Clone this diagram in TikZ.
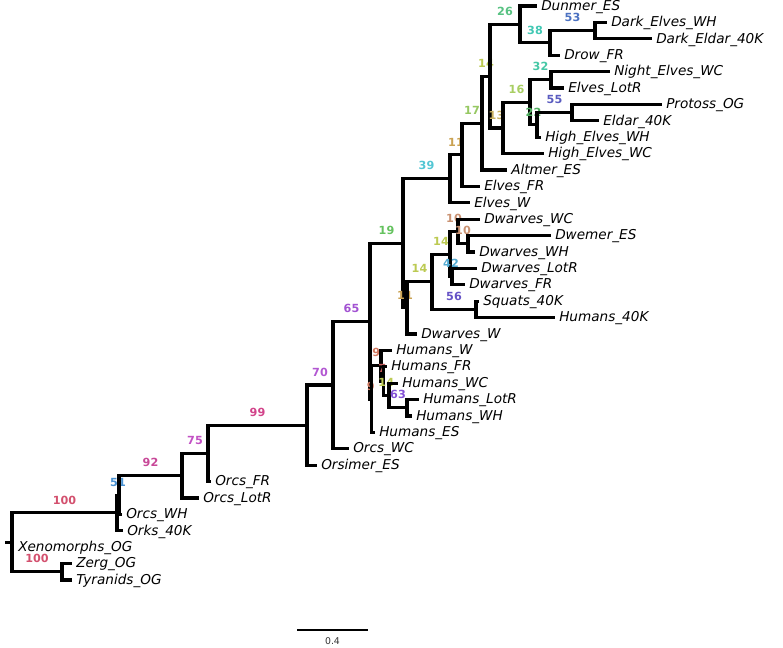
\documentclass[tikz,border=0pt]{standalone}
\usepackage{fontspec}
\setmainfont{DejaVu Sans}
\definecolor{c100}{HTML}{D3506E}
\definecolor{c99}{HTML}{D2438A}
\definecolor{c92}{HTML}{C84898}
\definecolor{c75}{HTML}{C250C4}
\definecolor{c70}{HTML}{B257D2}
\definecolor{c65}{HTML}{A252D2}
\definecolor{c63}{HTML}{8452D6}
\definecolor{c56}{HTML}{6552C6}
\definecolor{c55}{HTML}{5A5CC0}
\definecolor{c53}{HTML}{4C72C2}
\definecolor{c51}{HTML}{4A92D2}
\definecolor{c42}{HTML}{52AAD2}
\definecolor{c39}{HTML}{52C6D4}
\definecolor{c38}{HTML}{42C8B4}
\definecolor{c32}{HTML}{46C8A6}
\definecolor{c26}{HTML}{58C282}
\definecolor{c22}{HTML}{52B062}
\definecolor{c19}{HTML}{64C25E}
\definecolor{c17}{HTML}{96C862}
\definecolor{c16}{HTML}{A8CE62}
\definecolor{c14}{HTML}{BCCA52}
\definecolor{c13}{HTML}{CAB262}
\definecolor{c11}{HTML}{CAA252}
\definecolor{c10}{HTML}{CA9272}
\definecolor{c9}{HTML}{D27A62}
\definecolor{c7}{HTML}{C25A5A}
\begin{document}
\begin{tikzpicture}[x=0.75pt,y=-0.75pt,
  br/.style={line width=2.3pt, line join=miter, line cap=rect},
  tip/.style={anchor=west, inner sep=0pt, yshift=-0.5pt, font=\fontsize{10.2pt}{11pt}\selectfont\itshape},
  supp/.style={pos=0.75, anchor=south, inner sep=0pt, yshift=5.4pt,
    font=\fontsize{8.4pt}{9pt}\selectfont\bfseries, text=#1}]
\path[use as bounding box, fill=white] (0,0) rectangle (783,648);
% internal nodes
\coordinate (R) at (12,542.35);
\coordinate (Rs) at (7,542.35);
\coordinate (A) at (117,512.9);
\coordinate (A2) at (119,495.05);
\coordinate (B) at (182,475.7);
\coordinate (E) at (208,453.35);
\coordinate (F) at (307,425.1);
\coordinate (G) at (333,385);
\coordinate (H) at (370,321.2);
\coordinate (HH) at (371.5,399.1);
\coordinate (H1) at (381,365.8);
\coordinate (H2) at (383.5,381.15);
\coordinate (H3) at (389,395.5);
\coordinate (H4) at (407,407.8);
\coordinate (J) at (403,243.3);
\coordinate (M) at (407,307.85);
\coordinate (K) at (432,281.7);
\coordinate (N) at (450,254.05);
\coordinate (P) at (458,231.5);
\coordinate (PP) at (468,243.8);
\coordinate (Q) at (452,276.6);
\coordinate (O) at (476,309.4);
\coordinate (L) at (450,178.8);
\coordinate (S) at (462,154.75);
\coordinate (T) at (482,123.1);
\coordinate (U) at (490,76.2);
\coordinate (V) at (520,24.45);
\coordinate (X) at (550,42.9);
\coordinate (Y) at (595,30.6);
\coordinate (W) at (503,127.98);
\coordinate (Z1) at (530,102.35);
\coordinate (AA) at (551,79.8);
\coordinate (BB) at (537,124.9);
\coordinate (CC) at (572,112.6);
\coordinate (ZT) at (62,571.8);
% tips and their labels
\foreach \n/\x/\y/\t in {
  t0/535/6/Dunmer\_ES, t1/605/22.4/Dark\_Elves\_WH, t2/650/38.8/Dark\_Eldar\_40K,
  t3/558/55.2/Drow\_FR, t4/608/71.6/Night\_Elves\_WC, t5/562/88/Elves\_LotR,
  t6/660/104.4/Protoss\_OG, t7/597/120.8/Eldar\_40K, t8/539/137.2/High\_Elves\_WH,
  t9/542/153.6/High\_Elves\_WC, t10/505/170/Altmer\_ES, t11/478/186.4/Elves\_FR,
  t12/468/202.8/Elves\_W, t13/478/219.2/Dwarves\_WC, t14/549/235.6/Dwemer\_ES,
  t15/473/252/Dwarves\_WH, t16/475/268.4/Dwarves\_LotR, t17/463/284.8/Dwarves\_FR,
  t18/477/301.2/Squats\_40K, t19/553/317.6/Humans\_40K, t20/415/334/Dwarves\_W,
  t21/390/350.4/Humans\_W, t22/385/366.8/Humans\_FR, t23/396/383.2/Humans\_WC,
  t24/417/399.6/Humans\_LotR, t25/410/416/Humans\_WH, t26/373/432.4/Humans\_ES,
  t27/347/448.8/Orcs\_WC, t28/315/465.2/Orsimer\_ES, t29/209/481.6/Orcs\_FR,
  t30/197/498/Orcs\_LotR, t31/120/514.4/Orcs\_WH, t32/121/530.8/Orks\_40K,
  t33/12/547.2/Xenomorphs\_OG, t34/70/563.6/Zerg\_OG, t35/70/580/Tyranids\_OG}
{
  \coordinate (\n) at (\x,\y);
  \node[tip] (\n l) at ([xshift=4.5pt]\n) {\t};
}
% branches
\draw[br] (R) -- (Rs);
\draw[br] (R) |- (A) node[supp=c100] {100};
\draw[br] (R) |- (t33);
\draw[br] (R) |- (ZT) node[supp=c100] {100};
\draw[br] (ZT) |- (t34);
\draw[br] (ZT) |- (t35);
\draw[br] (A) |- (A2) node[supp=c51] {51};
\draw[br] (A) |- (t32);
\draw[br] (A2) |- (B) node[supp=c92] {92};
\draw[br] (A2) |- (t31);
\draw[br] (B) |- (E) node[supp=c75] {75};
\draw[br] (B) |- (t30);
\draw[br] (E) |- (F) node[supp=c99] {99};
\draw[br] (E) |- (t29);
\draw[br] (F) |- (G) node[supp=c70] {70};
\draw[br] (F) |- (t28);
\draw[br] (G) |- (H) node[supp=c65] {65};
\draw[br] (G) |- (t27);
\draw[br] (H) |- (J) node[supp=c19] {19};
\draw[br] (H) |- (HH) node[supp=c9] {9};
\draw[br] (HH) |- (H1) node[supp=c9] {9};
\draw[br] (HH) |- (t26);
\draw[br] (H1) |- (t21);
\draw[br] (H1) |- (H2) node[supp=c7] {7};
\draw[br] (H2) |- (t22);
\draw[br] (H2) |- (H3) node[supp=c14] {14};
\draw[br] (H3) |- (t23);
\draw[br] (H3) |- (H4) node[supp=c63] {63};
\draw[br] (H4) |- (t24);
\draw[br] (H4) |- (t25);
\draw[br] (J) |- (L) node[supp=c39] {39};
\draw[br] (J) |- (M) node[supp=c11] {11};
\draw[br] (M) |- (K) node[supp=c14] {14};
\draw[br] (M) |- (t20);
\draw[br] (K) |- (N) node[supp=c14] {14};
\draw[br] (K) |- (O) node[supp=c56] {56};
\draw[br] (N) |- (P) node[supp=c10] {10};
\draw[br] (N) |- (Q) node[supp=c42] {42};
\draw[br] (P) |- (t13);
\draw[br] (P) |- (PP) node[supp=c10] {10};
\draw[br] (PP) |- (t14);
\draw[br] (PP) |- (t15);
\draw[br] (Q) |- (t16);
\draw[br] (Q) |- (t17);
\draw[br] (O) |- (t18);
\draw[br] (O) |- (t19);
\draw[br] (L) |- (S) node[supp=c11] {11};
\draw[br] (L) |- (t12);
\draw[br] (S) |- (T) node[supp=c17] {17};
\draw[br] (S) |- (t11);
\draw[br] (T) |- (U) node[supp=c14] {14};
\draw[br] (T) |- (t10);
\draw[br] (U) |- (V) node[supp=c26] {26};
\draw[br] (U) |- (W) node[supp=c13] {13};
\draw[br] (V) |- (t0);
\draw[br] (V) |- (X) node[supp=c38] {38};
\draw[br] (X) |- (Y) node[supp=c53] {53};
\draw[br] (X) |- (t3);
\draw[br] (Y) |- (t1);
\draw[br] (Y) |- (t2);
\draw[br] (W) |- (Z1) node[supp=c16] {16};
\draw[br] (W) |- (t9);
\draw[br] (Z1) |- (AA) node[supp=c32] {32};
\draw[br] (Z1) |- (BB) node[supp=c22] {22};
\draw[br] (AA) |- (t4);
\draw[br] (AA) |- (t5);
\draw[br] (BB) |- (CC) node[supp=c55] {55};
\draw[br] (BB) |- (t8);
\draw[br] (CC) |- (t6);
\draw[br] (CC) |- (t7);
% scale bar
\coordinate (sb1) at (297,630);
\coordinate (sb2) at (368,630);
\draw[line width=0.9pt] (sb1) -- (sb2) node[midway, below=5pt, inner sep=0pt, font=\fontsize{7pt}{8pt}\selectfont, text=black!80] (sbl) {0.4};
\end{tikzpicture}
\end{document}
